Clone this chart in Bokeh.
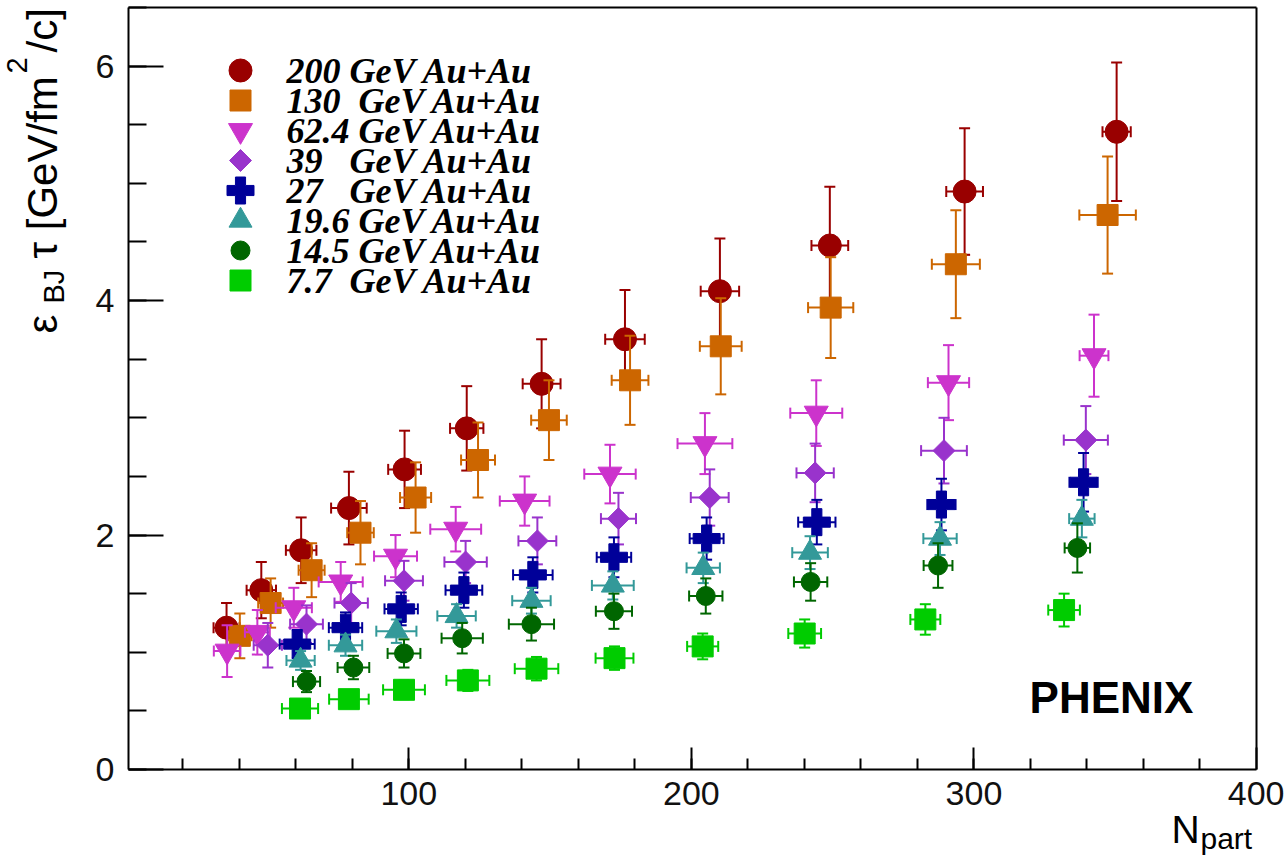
import math
from bokeh.plotting import figure
from bokeh.models import Range1d, FixedTicker, Label, LinearAxis
from bokeh.embed import file_html
from bokeh.resources import INLINE
from bokeh.core.properties import value

# ---------------- data ----------------
labels = ["200 GeV Au+Au", "130\u00a0\u00a0GeV Au+Au", "62.4 GeV Au+Au", "39\u00a0\u00a0\u00a0GeV Au+Au",
          "27\u00a0\u00a0\u00a0GeV Au+Au", "19.6 GeV Au+Au", "14.5 GeV Au+Au", "7.7\u00a0\u00a0GeV Au+Au"]

npart_200 = [35.5, 47.8, 61.9, 78.8, 98.5, 120.5, 147.0, 176.5, 210.1, 249.0, 296.7, 350.5]
npart_200_err = [4.6, 5.2, 5.4, 6.3, 5.8, 5.9, 6.7, 7.0, 6.8, 6.5, 6.5, 5.0]
e_200 = [1.21, 1.53, 1.87, 2.23, 2.56, 2.91, 3.29, 3.67, 4.08, 4.47, 4.93, 5.44]
e_200_err = [0.21, 0.24, 0.28, 0.31, 0.33, 0.36, 0.38, 0.42, 0.45, 0.50, 0.54, 0.59]

npart_130 = [40.2, 51.1, 65.6, 82.9, 102.4, 124.5, 149.6, 178.3, 210.4, 249.3, 293.6, 347.3]
npart_130_err = [4.2, 4.4, 4.6, 4.7, 5.5, 6.0, 6.3, 6.5, 7.4, 8.0, 8.5, 10.0]
e_130 = [1.14, 1.42, 1.70, 2.02, 2.32, 2.64, 2.98, 3.32, 3.61, 3.94, 4.31, 4.73]
e_130_err = [0.19, 0.21, 0.23, 0.27, 0.30, 0.32, 0.34, 0.38, 0.41, 0.43, 0.46, 0.50]

npart_62 = [35.7, 46.4, 59.3, 75.9, 95.3, 116.6, 141.0, 171.2, 204.8, 244.2, 291.0, 342.5]
npart_62_err = [4.7, 4.4, 6.4, 7.8, 7.6, 9.0, 8.8, 9.1, 9.7, 9.2, 7.3, 5.1]
e_62 = [1.01, 1.17, 1.38, 1.60, 1.82, 2.05, 2.29, 2.52, 2.78, 3.04, 3.30, 3.53]
e_62_err = [0.22, 0.19, 0.17, 0.17, 0.18, 0.19, 0.21, 0.25, 0.26, 0.28, 0.32, 0.35]

npart_39 = [50.1, 63.8, 79.6, 98.3, 120.1, 145.5, 174.2, 206.5, 243.8, 289.4, 339.6]
npart_39_err = [5.0, 5.8, 5.9, 6.7, 7.5, 6.7, 6.2, 6.7, 6.6, 8.1, 7.8]
e_39 = [1.06, 1.24, 1.42, 1.61, 1.77, 1.95, 2.14, 2.32, 2.53, 2.72, 2.81]
e_39_err = [0.19, 0.16, 0.17, 0.17, 0.18, 0.20, 0.22, 0.24, 0.25, 0.28, 0.29]

npart_27 = [60.5, 77.6, 97.3, 119.5, 143.9, 172.6, 205.4, 244.4, 288.5, 338.8]
npart_27_err = [6.2, 5.9, 5.9, 6.5, 7.0, 6.1, 6.0, 6.6, 5.0, 5.0]
e_27 = [1.07, 1.21, 1.37, 1.53, 1.66, 1.81, 1.97, 2.11, 2.26, 2.45]
e_27_err = [0.12, 0.13, 0.14, 0.15, 0.15, 0.17, 0.18, 0.19, 0.22, 0.25]

npart_19 = [61.7, 77.6, 95.6, 116.9, 143.4, 172.2, 204.2, 242.0, 288.0, 338.2]
npart_19_err = [5.0, 5.9, 7.1, 6.8, 6.8, 7.4, 5.9, 6.3, 5.9, 4.5]
e_19 = [0.93, 1.06, 1.18, 1.31, 1.44, 1.57, 1.72, 1.85, 1.97, 2.14]
e_19_err = [0.08, 0.09, 0.10, 0.10, 0.11, 0.12, 0.13, 0.14, 0.14, 0.16]

npart_14 = [63.8, 80.4, 98.3, 118.9, 143.4, 172.6, 205.1, 242.2, 287.3, 336.6]
npart_14_err = [4.8, 5.6, 5.8, 7.3, 8.0, 6.4, 5.9, 5.9, 5.1, 4.5]
e_14 = [0.75, 0.87, 0.99, 1.12, 1.24, 1.35, 1.48, 1.60, 1.74, 1.89]
e_14_err = [0.09, 0.10, 0.12, 0.13, 0.14, 0.15, 0.15, 0.16, 0.19, 0.21]

npart_7 = [61.5, 78.8, 98.3, 120.9, 145.2, 172.8, 204.0, 240.1, 282.8, 331.9]
npart_7_err = [6.4, 7.0, 7.4, 7.6, 7.7, 6.7, 5.5, 5.8, 5.3, 5.6]
e_7 = [0.52, 0.60, 0.68, 0.76, 0.86, 0.95, 1.05, 1.16, 1.28, 1.36]
e_7_err = [0.06, 0.07, 0.08, 0.09, 0.10, 0.10, 0.11, 0.12, 0.13, 0.14]

x_ticks = [100, 200, 300, 400]
x_minor = list(range(20, 400, 20))
y_ticks = [0, 2, 4, 6]
y_minor = [0.5 * i for i in range(14)]

# ---------------- styling ----------------
# (x, xerr, y, yerr, colour, marker, size, marker angle)
series = [
    (npart_200, npart_200_err, e_200, e_200_err, "#990000", "circle", 23, 0.0),
    (npart_130, npart_130_err, e_130, e_130_err, "#cc6600", "square", 21, 0.0),
    (npart_62, npart_62_err, e_62, e_62_err, "#cc33cc", "inverted_triangle", 24, 0.0),
    (npart_39, npart_39_err, e_39, e_39_err, "#9933cc", "square", 15.5, math.pi / 4),
    (npart_27, npart_27_err, e_27, e_27_err, "#000099", "plus", 27, 0.0),
    (npart_19, npart_19_err, e_19, e_19_err, "#339999", "triangle", 23, 0.0),
    (npart_14, npart_14_err, e_14, e_14_err, "#006600", "circle", 19, 0.0),
    (npart_7, npart_7_err, e_7, e_7_err, "#00cc00", "square", 21, 0.0),
]

# visible axes box (data) and its pixel placement on the canvas
AX0, AX1, AY0, AY1 = 0.8, 400.0, 0.0, 6.5
W, H = 1284, 856
FL, FR, FT, FB = 128, 1256, 7, 769
KX = (FR - FL) / (AX1 - AX0)
KY = (FB - FT) / (AY1 - AY0)
XR0 = AX0 - FL / KX
XR1 = XR0 + W / KX
YR0 = AY0 - (H - FB) / KY
YR1 = YR0 + H / KY


def dx(px):
    return XR0 + px / KX


def dy(py):
    return YR0 + (H - py) / KY


p = figure(width=W, height=H, x_range=Range1d(XR0, XR1), y_range=Range1d(YR0, YR1),
           output_backend="svg", toolbar_location=None, title=None,
           min_border=0, min_border_left=0, min_border_right=0, min_border_top=0, min_border_bottom=0)
p.grid.visible = False
p.background_fill_color = "white"
p.border_fill_color = "white"
p.outline_line_color = None

xa = p.xaxis[0]
ya = p.yaxis[0]
xa.fixed_location = AY0
ya.fixed_location = AX0
xa.bounds = (AX0, AX1 + 1e-6)
ya.bounds = (AY0 - 1e-6, AY1)
xa.ticker = FixedTicker(ticks=x_ticks, minor_ticks=x_minor)
ya.ticker = FixedTicker(ticks=y_ticks, minor_ticks=y_minor)
for ax in (xa, ya):
    ax.axis_line_width = 2
    ax.axis_line_color = "black"
    ax.major_tick_line_width = 2
    ax.minor_tick_line_width = 2
    ax.major_tick_out = 0
    ax.minor_tick_out = 0
    ax.major_label_text_font = "Liberation Sans"
    ax.major_label_text_font_size = "34px"
    ax.major_label_text_color = "#111111"
xa.major_tick_in = 22
xa.minor_tick_in = 11
ya.major_tick_in = 35
ya.minor_tick_in = 18
xa.major_label_standoff = 12
ya.major_label_standoff = 14

# closing lines of the box (top and right), axes without ticks
top_ax = LinearAxis(fixed_location=AY1, bounds=(AX0, AX1), ticker=FixedTicker(ticks=[]),
                    major_tick_in=0, major_tick_out=0, minor_tick_in=0, minor_tick_out=0,
                    major_label_text_font_size="0px", axis_line_width=2, axis_line_color="black")
right_ax = LinearAxis(fixed_location=AX1, bounds=(AY0, AY1), ticker=FixedTicker(ticks=[]),
                      major_tick_in=0, major_tick_out=0, minor_tick_in=0, minor_tick_out=0,
                      major_label_text_font_size="0px", axis_line_width=2, axis_line_color="black")
p.add_layout(top_ax, "above")
p.add_layout(right_ax, "right")

# ---------------- data marks ----------------
for xs, xe, ys, ye, col, mk, sz, ang in series:
    xl = [a - b for a, b in zip(xs, xe)]
    xr = [a + b for a, b in zip(xs, xe)]
    yl = [a - b for a, b in zip(ys, ye)]
    yh = [a + b for a, b in zip(ys, ye)]
    p.segment(x0=xl, y0=ys, x1=xr, y1=ys, line_color=col, line_width=2)
    p.segment(x0=xs, y0=yl, x1=xs, y1=yh, line_color=col, line_width=2)
    p.scatter(x=xl + xr, y=ys + ys, marker="dash", angle=math.pi / 2, size=11,
              line_color=col, line_width=2)
    p.scatter(x=xs + xs, y=yl + yh, marker="dash", size=11, line_color=col, line_width=2)
    p.scatter(x=xs, y=ys, marker=mk, size=sz, angle=ang, fill_color=col, line_color=col, line_width=1)

# ---------------- legend (manual) ----------------
leg_x_marker = 240
leg_x_text = 286
leg_y0 = 70
leg_dy = 30.0
for i, (lab, s) in enumerate(zip(labels, series)):
    col, mk, sz, ang = s[4], s[5], s[6], s[7]
    yy = dy(leg_y0 + i * leg_dy)
    p.scatter(x=[dx(leg_x_marker)], y=[yy], marker=mk, size=sz, angle=ang,
              fill_color=col, line_color=col)
    p.text(x=[dx(leg_x_text)], y=[yy], text=[lab], text_font=value("Liberation Serif"),
           text_font_style="bold italic", text_font_size="36px", text_baseline="middle",
           text_align="left", text_color="black")

# ---------------- PHENIX label ----------------
p.add_layout(Label(x=dx(1111), y=dy(697), text="PHENIX", text_font="Liberation Sans",
                   text_font_style="bold", text_font_size="44px", text_align="center",
                   text_baseline="middle", text_color="black"))

# ---------------- x axis title: N_part ----------------
p.add_layout(Label(x=dx(1171), y=dy(829), text="N", text_font="Liberation Sans",
                   text_font_size="39px", text_align="left", text_baseline="alphabetic",
                   text_color="black"))
p.add_layout(Label(x=dx(1200), y=dy(838), text="part", text_font="Liberation Sans",
                   text_font_size="30px", text_align="left", text_baseline="alphabetic",
                   text_color="black"))

# ---------------- y axis title: eps_BJ tau [GeV/fm^2/c] ----------------
rot = math.pi / 2
yl_parts = [
    ("\u03b5", 42, 333, "42px"),
    ("BJ", 53, 303, "29px"),
    ("\u03c4 [GeV/fm", 42, 258, "42px"),
    ("2", 16, 73, "29px"),
    ("/c]", 42, 52, "42px"),
]
for txt, bx, sy, fs in yl_parts:
    p.add_layout(Label(x=dx(bx), y=dy(sy), text=txt, angle=rot, text_font="Liberation Sans",
                       text_font_size=fs, text_align="left", text_baseline="alphabetic",
                       text_color="black"))

open("out.html", "w").write(file_html(p, INLINE))
